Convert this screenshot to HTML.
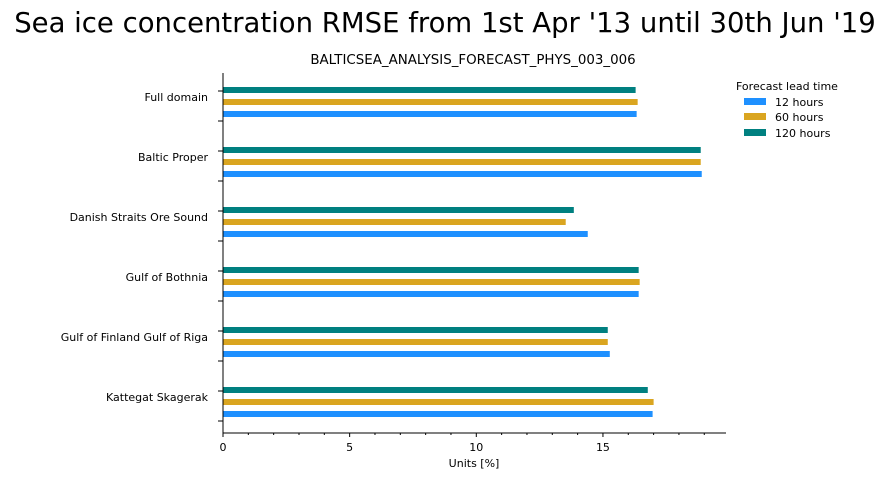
<!DOCTYPE html>
<html><head><meta charset="utf-8"><style>
body{margin:0;background:#fff;font-family:"DejaVu Sans","Liberation Sans",sans-serif}
</style></head><body>
<svg width="891" height="478" viewBox="0 0 891 478" xmlns="http://www.w3.org/2000/svg" font-family="DejaVu Sans, Liberation Sans, sans-serif">
<text x="445" y="32" font-size="27.5" text-anchor="middle">Sea ice concentration RMSE from 1st Apr '13 until 30th Jun '19</text>
<text x="473" y="64" font-size="13.4" text-anchor="middle">BALTICSEA_ANALYSIS_FORECAST_PHYS_003_006</text>
<g id="plot"></g>
<g font-size="11">
<text x="736" y="90">Forecast lead time</text>
<rect x="744" y="98" width="22" height="7" fill="#1e90ff"/>
<text x="775" y="106">12 hours</text>
<rect x="744" y="113" width="22" height="7" fill="#daa520"/>
<text x="775" y="121">60 hours</text>
<rect x="744" y="129" width="22" height="7" fill="#008080"/>
<text x="775" y="137">120 hours</text>
</g>
</svg>
<script>
const categories=["Full domain","Baltic Proper","Danish Straits Ore Sound","Gulf of Bothnia","Gulf of Finland Gulf of Riga","Kattegat Skagerak"];
const h12=[16.33,18.9,14.4,16.41,15.27,16.96];
const h60=[16.37,18.86,13.53,16.45,15.19,17.0];
const h120=[16.29,18.86,13.85,16.41,15.19,16.77];
const xTicks=[0,5,10,15];
const NS="http://www.w3.org/2000/svg";
const g=document.getElementById('plot');
const x0=223,ppu=25.33,plotTop=73,plotBottom=433;
const X=v=>x0+v*ppu;
const Y=i=>97+i*60;
function mk(t,a){const e=document.createElementNS(NS,t);for(const k in a)e.setAttribute(k,a[k]);g.appendChild(e);return e;}
const series=[[h120,"#008080",-7,"120h"],[h60,"#daa520",5,"60h"],[h12,"#1e90ff",17,"12h"]];
categories.forEach((c,i)=>{
  series.forEach(s=>{
    const r=mk('rect',{x:X(0),y:Y(i)+s[2]-3,width:X(s[0][i])-X(0),height:6,fill:s[1]});
    
    
  });
  const t=mk('text',{x:208,y:Y(i)+4,'font-size':11,'text-anchor':'end'});
  t.textContent=c;
  
  
  [Y(i)-6,Y(i)+24].forEach(ty=>{const l=mk('line',{x1:218,x2:223,y1:ty,y2:ty,stroke:'#000'});
  
  });
});
const ya=mk('line',{x1:223,x2:223,y1:plotTop,y2:plotBottom,stroke:'#000'});


const xa=mk('line',{x1:223,x2:726,y1:plotBottom,y2:plotBottom,stroke:'#000'});


for(let v=0;v<=19;v++){
  const major=xTicks.includes(v);
  const l=mk('line',{x1:X(v),x2:X(v),y1:plotBottom,y2:plotBottom+(major?4:2),stroke:'#000'});
  
  
}
xTicks.forEach(v=>{const t=mk('text',{x:X(v),y:451,'font-size':11,'text-anchor':'middle'});t.textContent=v;
  
  });
const xt=mk('text',{x:474,y:467,'font-size':11,'text-anchor':'middle'});xt.textContent='Units [%]';


</script>
</body></html>
